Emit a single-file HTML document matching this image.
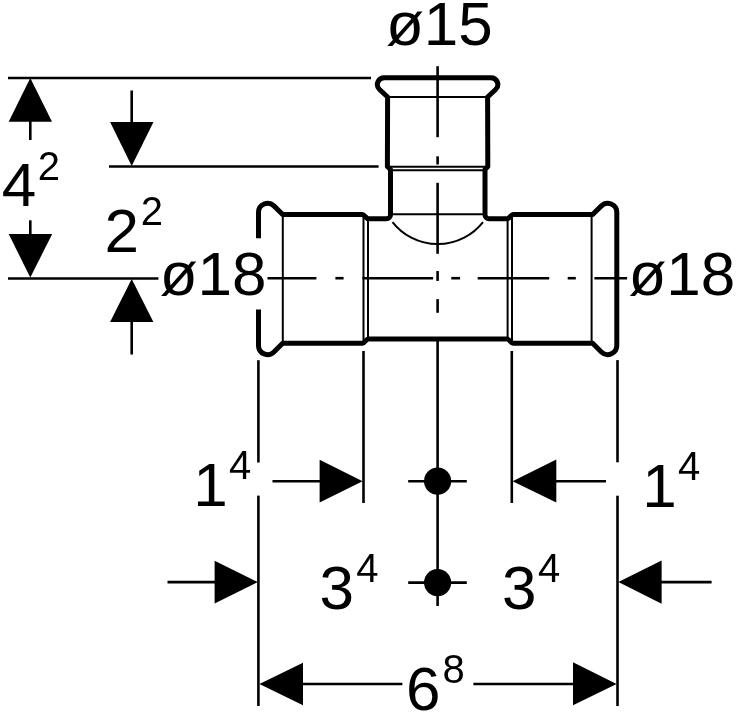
<!DOCTYPE html>
<html><head><meta charset="utf-8"><style>
html,body{margin:0;padding:0;background:#fff;}
svg{display:block;will-change:transform;}
text{font-family:"Liberation Sans",sans-serif;fill:#000;}
</style></head><body>
<svg width="736" height="712" viewBox="0 0 736 712">
<g stroke="#000" fill="none">
<line x1="8" y1="78" x2="371" y2="78" stroke-width="2.6" stroke-linecap="butt"/>
<line x1="109" y1="166.5" x2="378.6" y2="166.5" stroke-width="2.6" stroke-linecap="butt"/>
<line x1="8" y1="278.5" x2="158.4" y2="278.5" stroke-width="2.6" stroke-linecap="butt"/>
<polygon points="30.3,78 8.7,121.8 52,121.8" stroke="none" fill="#000"/>
<line x1="30.3" y1="121" x2="30.3" y2="140" stroke-width="2.6" stroke-linecap="butt"/>
<line x1="30.3" y1="220.3" x2="30.3" y2="235" stroke-width="2.6" stroke-linecap="butt"/>
<polygon points="30.3,277.5 8.7,234 52.2,234" stroke="none" fill="#000"/>
<line x1="131.7" y1="90.5" x2="131.7" y2="123" stroke-width="2.6" stroke-linecap="butt"/>
<polygon points="131.7,166 110.1,122.1 153.5,122.1" stroke="none" fill="#000"/>
<polygon points="131.7,279 110.1,322.1 153.4,322.1" stroke="none" fill="#000"/>
<line x1="131.7" y1="321" x2="131.7" y2="354.5" stroke-width="2.6" stroke-linecap="butt"/>
<line x1="258.4" y1="360.2" x2="258.4" y2="462.5" stroke-width="2.6" stroke-linecap="butt"/>
<line x1="258.4" y1="495.6" x2="258.4" y2="706" stroke-width="2.6" stroke-linecap="butt"/>
<line x1="363.5" y1="351" x2="363.5" y2="503" stroke-width="2.6" stroke-linecap="butt"/>
<line x1="437.6" y1="339" x2="437.6" y2="606" stroke-width="2.6" stroke-linecap="butt"/>
<line x1="511.8" y1="351" x2="511.8" y2="503" stroke-width="2.6" stroke-linecap="butt"/>
<line x1="617.5" y1="360.1" x2="617.5" y2="462.3" stroke-width="2.6" stroke-linecap="butt"/>
<line x1="617.5" y1="495.7" x2="617.5" y2="706" stroke-width="2.6" stroke-linecap="butt"/>
<line x1="272.5" y1="481.3" x2="321" y2="481.3" stroke-width="2.6" stroke-linecap="butt"/>
<polygon points="362.6,481.2 319.6,459.7 319.6,502.6" stroke="none" fill="#000"/>
<polygon points="512.6,481.2 556.3,459.5 556.3,502.5" stroke="none" fill="#000"/>
<line x1="555" y1="481.2" x2="606" y2="481.2" stroke-width="2.6" stroke-linecap="butt"/>
<circle cx="437.6" cy="481.2" r="13.6" fill="#000" stroke="none"/>
<line x1="408.2" y1="481.2" x2="466.8" y2="481.2" stroke-width="2.6" stroke-linecap="butt"/>
<circle cx="437.6" cy="582.6" r="13.6" fill="#000" stroke="none"/>
<line x1="408.2" y1="582.6" x2="466.8" y2="582.6" stroke-width="2.6" stroke-linecap="butt"/>
<line x1="167.5" y1="582.1" x2="216" y2="582.1" stroke-width="2.6" stroke-linecap="butt"/>
<polygon points="257.8,582.1 214.6,560.8 214.6,603.5" stroke="none" fill="#000"/>
<polygon points="618.4,582.1 661.6,560.5 661.6,603.8" stroke="none" fill="#000"/>
<line x1="660" y1="582.1" x2="711.6" y2="582.1" stroke-width="2.6" stroke-linecap="butt"/>
<polygon points="259.4,684 303,662.8 303,705.3" stroke="none" fill="#000"/>
<line x1="301" y1="684" x2="402.4" y2="684" stroke-width="2.6" stroke-linecap="butt"/>
<line x1="473.4" y1="684" x2="575" y2="684" stroke-width="2.6" stroke-linecap="butt"/>
<polygon points="616.6,684 573,662.3 573,705.2" stroke="none" fill="#000"/>
<line x1="437.6" y1="66.2" x2="437.6" y2="137.2" stroke-width="2.6" stroke-linecap="butt"/>
<line x1="437.6" y1="156.3" x2="437.6" y2="164.5" stroke-width="2.6" stroke-linecap="butt"/>
<line x1="437.6" y1="182.8" x2="437.6" y2="253.8" stroke-width="2.6" stroke-linecap="butt"/>
<line x1="437.6" y1="271" x2="437.6" y2="280.9" stroke-width="2.6" stroke-linecap="butt"/>
<line x1="437.6" y1="299.1" x2="437.6" y2="312.8" stroke-width="2.6" stroke-linecap="butt"/>
<line x1="267.5" y1="278.2" x2="316.4" y2="278.2" stroke-width="2.6" stroke-linecap="butt"/>
<line x1="335.4" y1="278.2" x2="343.6" y2="278.2" stroke-width="2.6" stroke-linecap="butt"/>
<line x1="362.4" y1="278.2" x2="433.1" y2="278.2" stroke-width="2.6" stroke-linecap="butt"/>
<line x1="451.3" y1="278.2" x2="460.1" y2="278.2" stroke-width="2.6" stroke-linecap="butt"/>
<line x1="477.7" y1="278.2" x2="549.2" y2="278.2" stroke-width="2.6" stroke-linecap="butt"/>
<line x1="567.7" y1="278.2" x2="575.8" y2="278.2" stroke-width="2.6" stroke-linecap="butt"/>
<line x1="594.4" y1="278.2" x2="627.1" y2="278.2" stroke-width="2.6" stroke-linecap="butt"/>
<line x1="282.8" y1="214.6" x2="282.8" y2="343.3" stroke-width="2.0" stroke-linecap="butt"/>
<line x1="363.5" y1="214.6" x2="363.5" y2="343.3" stroke-width="2.0" stroke-linecap="butt"/>
<line x1="368" y1="218.7" x2="368" y2="339" stroke-width="2.0" stroke-linecap="butt"/>
<line x1="507.6" y1="218.7" x2="507.6" y2="339" stroke-width="2.0" stroke-linecap="butt"/>
<line x1="512" y1="214.6" x2="512" y2="343.3" stroke-width="2.0" stroke-linecap="butt"/>
<line x1="591.6" y1="214.6" x2="591.6" y2="343.3" stroke-width="2.0" stroke-linecap="butt"/>
<line x1="387.6" y1="96.9" x2="487.6" y2="96.9" stroke-width="2.0" stroke-linecap="butt"/>
<line x1="390" y1="166.7" x2="485" y2="166.7" stroke-width="2.0" stroke-linecap="butt"/>
<line x1="392.8" y1="170.2" x2="483" y2="170.2" stroke-width="2.0" stroke-linecap="butt"/>
<line x1="391.7" y1="214.2" x2="482.9" y2="214.2" stroke-width="2.0" stroke-linecap="butt"/>
<path d="M392.5,222.1 A57.5,57.5 0 0 0 483,222.1" stroke-width="2.0" fill="none"/>
<path d="M258.5,238.2 L258.5,212.3 A9.1,9.1 0 0 1 273.93,205.87 L282.66,214.6 L362.5,214.6 C364.5,214.6 366,218.7 368.5,218.7 L386.5,218.7 A4,4 0 0 0 390.5,214.7 L390.5,169.5 L387.4,166.5 L387.6,97 L379.55,89.46 A6.8,6.8 0 0 1 384.2,77.7 L491.0,77.7 A6.8,6.8 0 0 1 495.65,89.46 L487.6,97 L487.8,166.5 L485,169.5 L485,214.7 A4,4 0 0 0 489,218.7 L507,218.7 C509.5,218.7 511,214.6 513,214.6 L592.64,214.6 L601.37,205.87 A9.1,9.1 0 0 1 616.8,212.3 L616.8,345.6 A9.1,9.1 0 0 1 601.37,352.03 L592.64,343.3 L513,343.3 C511,343.3 509.5,339 507,339 L368.5,339 C366,339 364.5,343.3 362.5,343.3 L282.66,343.3 L273.93,352.03 A9.1,9.1 0 0 1 258.5,345.6 L258.5,309.5" stroke-width="5.0" fill="none" stroke-linejoin="round"/>
</g>
<g>
<text x="386" y="45" font-size="62">ø15</text>
<text x="159.7" y="294.8" font-size="62">ø18</text>
<text x="628.5" y="294.8" font-size="62">ø18</text>
<text x="1.7" y="206.4" font-size="62">4</text><text x="37.7" y="179.7" font-size="40">2</text>
<text x="104.5" y="251.9" font-size="62">2</text><text x="140.7" y="225.2" font-size="40">2</text>
<text x="193.2" y="506.3" font-size="62">1</text><text x="229" y="479.3" font-size="40">4</text>
<text x="642.3" y="506.6" font-size="62">1</text><text x="678.1" y="480.1" font-size="40">4</text>
<text x="319.6" y="608.9" font-size="62">3</text><text x="356.2" y="581.7" font-size="40">4</text>
<text x="502.1" y="608.9" font-size="62">3</text><text x="538.1" y="581.7" font-size="40">4</text>
<text x="406" y="709.7" font-size="62">6</text><text x="442.6" y="682.9" font-size="40">8</text>
</g>
</svg>
</body></html>
